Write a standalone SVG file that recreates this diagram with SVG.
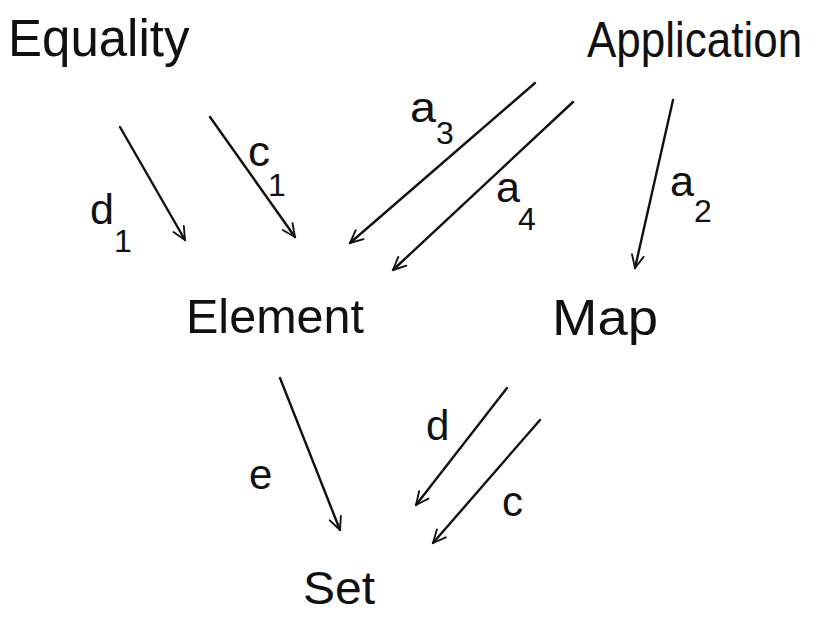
<svg xmlns="http://www.w3.org/2000/svg" width="814" height="619" viewBox="0 0 814 619">
<style>
.node{font-family:"Liberation Sans","DejaVu Sans",sans-serif;fill:#111;}
.lbl{font-family:"Liberation Sans","DejaVu Sans",sans-serif;fill:#111;font-size:42px;}
.sub{font-size:32px;}
.edge{stroke:#111;stroke-width:2.4;fill:none;stroke-linecap:round;marker-end:url(#ah);}
</style>
<defs>
<marker id="ah" viewBox="0 0 20 20" refX="18" refY="10" markerWidth="17" markerHeight="17" orient="auto" markerUnits="userSpaceOnUse">
<path d="M3,3 L18,10 L3,17" fill="none" stroke="#111" stroke-width="2.2" stroke-linecap="round" stroke-linejoin="round"/>
</marker>
</defs>
<rect width="814" height="619" fill="#ffffff"/>
<g id="Equality"><text class="node" x="8" y="56" font-size="51">Equality</text></g>
<g id="Application"><text class="node" x="587" y="57" font-size="44" transform="translate(0,57) scale(1,1.12) translate(0,-57)">Application</text></g>
<g id="Element"><text class="node" x="186" y="333" font-size="48" textLength="178" lengthAdjust="spacingAndGlyphs">Element</text></g>
<g id="Map"><text class="node" x="552" y="335" font-size="50" textLength="106" lengthAdjust="spacingAndGlyphs">Map</text></g>
<g id="Set"><text class="node" x="303" y="604" font-size="46" textLength="72" lengthAdjust="spacingAndGlyphs">Set</text></g>
<g id="connectors">
<line class="edge" x1="120" y1="127" x2="185" y2="240"/>
<line class="edge" x1="210" y1="117" x2="295" y2="237"/>
<line class="edge" x1="535" y1="83" x2="350" y2="243"/>
<line class="edge" x1="573" y1="102" x2="393" y2="270"/>
<line class="edge" x1="673" y1="100" x2="635" y2="268"/>
<line class="edge" x1="280" y1="378" x2="340" y2="530"/>
<line class="edge" x1="507" y1="388" x2="416" y2="505"/>
<line class="edge" x1="540" y1="420" x2="433" y2="543"/>
<text class="lbl" x="90" y="224" textLength="24" lengthAdjust="spacingAndGlyphs">d</text>
<text class="lbl sub" x="114" y="252">1</text>
<text class="lbl" x="248" y="166" textLength="22" lengthAdjust="spacingAndGlyphs">c</text>
<text class="lbl sub" x="268" y="196">1</text>
<text class="lbl" x="410" y="122" textLength="26" lengthAdjust="spacingAndGlyphs">a</text>
<text class="lbl sub" x="436" y="144">3</text>
<text class="lbl" x="496" y="202" textLength="24" lengthAdjust="spacingAndGlyphs">a</text>
<text class="lbl sub" x="518" y="230">4</text>
<text class="lbl" x="670" y="196" textLength="24" lengthAdjust="spacingAndGlyphs">a</text>
<text class="lbl sub" x="694" y="222">2</text>
<text class="lbl" x="249" y="489" font-size="58">e</text>
<text class="lbl" x="426" y="440" font-size="44">d</text>
<text class="lbl" x="502" y="516">c</text>
</g>
</svg>
